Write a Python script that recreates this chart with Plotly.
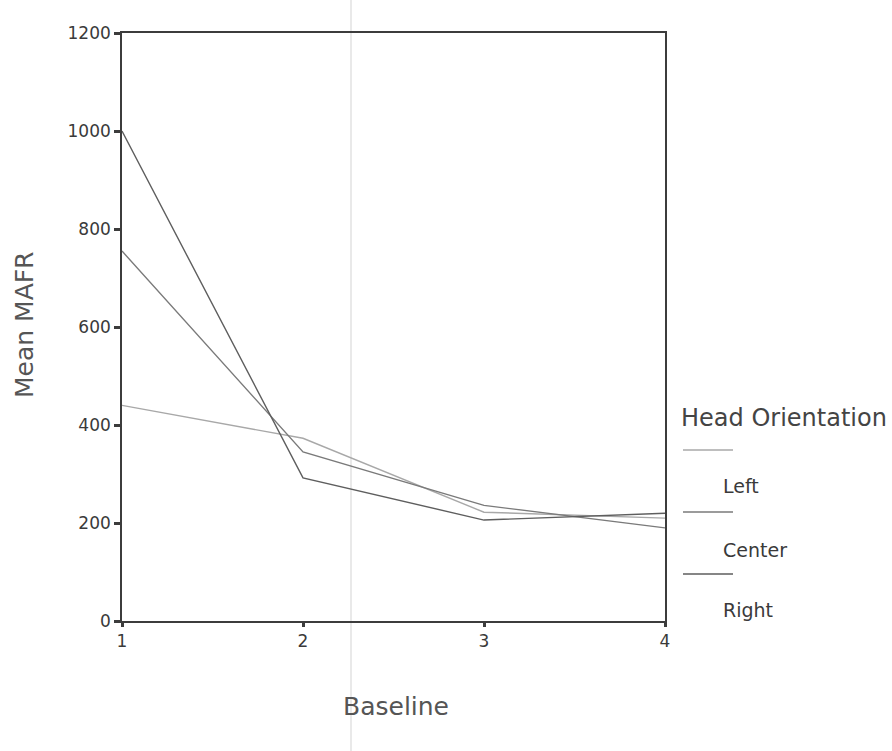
import plotly.graph_objects as go

# Baseline sessions and mean MAFR per head orientation
baseline = [1, 2, 3, 4]
left_mafr = [440, 373, 222, 210]
center_mafr = [755, 345, 236, 190]
right_mafr = [1000, 292, 206, 220]

series_names = ["Left", "Center", "Right"]
series_values = [left_mafr, center_mafr, right_mafr]
series_colors = ["#a8a8a8", "#7a7a7a", "#5e5e5e"]

y_ticks = [0, 200, 400, 600, 800, 1000, 1200]
x_ticks = [1, 2, 3, 4]

FONT = "DejaVu Sans, Verdana, sans-serif"
TEXT = "#3a3a3a"

fig = go.Figure()
for name, vals, col in zip(series_names, series_values, series_colors):
    fig.add_trace(go.Scatter(
        x=baseline, y=vals, mode="lines", name=name,
        line=dict(color=col, width=1.4), showlegend=False,
    ))

fig.update_layout(
    width=892, height=751,
    margin=dict(l=122, r=227, t=33, b=130),
    paper_bgcolor="white", plot_bgcolor="white",
    font=dict(family=FONT, color=TEXT),
    xaxis=dict(
        range=[1, 4], tickvals=x_ticks, ticktext=[str(v) for v in x_ticks],
        showgrid=False, zeroline=False,
        showline=True, linecolor="#3c3c3c", linewidth=1.6, mirror=True,
        ticks="outside", ticklen=4, tickwidth=3, tickcolor="#3c3c3c",
        tickfont=dict(size=17, color=TEXT),
    ),
    yaxis=dict(
        range=[0, 1200], tickvals=y_ticks,
        showgrid=False, zeroline=False,
        showline=True, linecolor="#3c3c3c", linewidth=1.6, mirror=True,
        ticks="outside", ticklen=6, tickwidth=3, tickcolor="#3c3c3c",
        tickfont=dict(size=17, color=TEXT),
    ),
)

# Pixel helpers for placing the axis titles and the legend block
def px_x(px):
    return (px - 122) / 543.0

def px_y(py):
    return (621 - py) / 588.0

fig.add_annotation(
    x=px_x(396), y=px_y(706), xref="paper", yref="paper",
    text="Baseline", showarrow=False, xanchor="center", yanchor="middle",
    font=dict(size=25, color="#555555", family=FONT),
)
fig.add_annotation(
    x=px_x(24), y=px_y(325), xref="paper", yref="paper",
    text="Mean MAFR", showarrow=False, textangle=-90,
    xanchor="center", yanchor="middle",
    font=dict(size=25, color="#555555", family=FONT),
)

# Legend: title, then a line sample above each label
fig.add_annotation(
    x=px_x(679), y=px_y(418), xref="paper", yref="paper",
    text="Head Orientation", showarrow=False, xanchor="left", yanchor="middle",
    font=dict(size=24, color="#444444", family=FONT),
)
sample_rows = [450, 512, 574]
label_rows = [486, 550, 610]
for name, col, sy, ly in zip(series_names, series_colors, sample_rows, label_rows):
    fig.add_shape(
        type="line", xref="paper", yref="paper",
        x0=px_x(683), x1=px_x(733), y0=px_y(sy), y1=px_y(sy),
        line=dict(color=col, width=1.4),
    )
    fig.add_annotation(
        x=px_x(721), y=px_y(ly), xref="paper", yref="paper",
        text=name, showarrow=False, xanchor="left", yanchor="middle",
        font=dict(size=19, color="#3a3a3a", family=FONT),
    )

# Faint vertical crease running across the page
fig.add_shape(
    type="line", xref="paper", yref="paper",
    x0=px_x(351), x1=px_x(351), y0=px_y(751), y1=px_y(0),
    line=dict(color="#e2e2e2", width=1.5), layer="below",
)

fig.write_html("out.html")
